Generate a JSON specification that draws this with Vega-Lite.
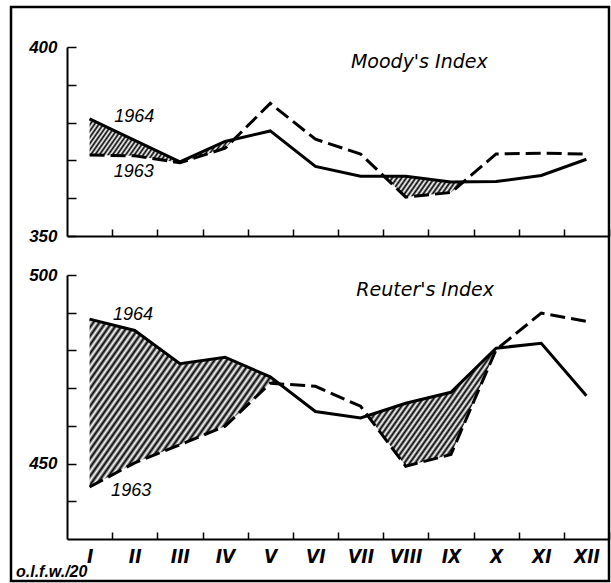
{
"$schema": "https://vega.github.io/schema/vega-lite/v6.json",
"width": 598, "height": 574,
"autosize": {"type": "none"},
"padding": {"left": 11, "top": 7, "right": 2, "bottom": 2},
"background": "white",
"config": {
  "view": {"stroke": "black", "strokeWidth": 2.5},
  "axis": {"domainColor": "black", "tickColor": "black", "labelColor": "black", "domainWidth": 2, "tickWidth": 1.5, "grid": false, "title": null, "labelFont": "Liberation Sans"}
},
"datasets": {
  "moody": [
    {"m":1,"v64":381.0,"v63":371.4},{"m":2,"v64":375.3,"v63":371.2},{"m":3,"v64":369.6,"v63":369.4},
    {"m":4,"v64":375.0,"v63":373.2},{"m":5,"v64":377.8,"v63":385.1},{"m":6,"v64":368.4,"v63":375.6},
    {"m":7,"v64":365.8,"v63":371.7},{"m":8,"v64":365.8,"v63":360.3},{"m":9,"v64":364.3,"v63":361.5},
    {"m":10,"v64":364.4,"v63":371.7},{"m":11,"v64":366.0,"v63":371.9},{"m":12,"v64":370.3,"v63":371.7}
  ],
  "moodyHatch": [
    {"seg":"a","m":1,"hi":381.0,"lo":371.4},{"seg":"a","m":2,"hi":375.3,"lo":371.2},{"seg":"a","m":3,"hi":369.6,"lo":369.4},
    {"seg":"a","m":4,"hi":375.0,"lo":373.2},{"seg":"a","m":4.2,"hi":375.6,"lo":375.6},
    {"seg":"b","m":7.52,"hi":365.8,"lo":365.8},{"seg":"b","m":8,"hi":365.8,"lo":360.3},{"seg":"b","m":9,"hi":364.3,"lo":361.5},
    {"seg":"b","m":9.27,"hi":364.3,"lo":364.3}
  ],
  "reuter": [
    {"m":1,"v64":488.3,"v63":443.8},{"m":2,"v64":485.3,"v63":450.2},{"m":3,"v64":476.5,"v63":455.0},
    {"m":4,"v64":478.2,"v63":459.9},{"m":5,"v64":473.0,"v63":471.3},{"m":6,"v64":463.8,"v63":470.5},
    {"m":7,"v64":462.1,"v63":465.2},{"m":8,"v64":466.0,"v63":449.3},{"m":9,"v64":468.9,"v63":452.4},
    {"m":10,"v64":480.6,"v63":480.2},{"m":11,"v64":481.9,"v63":489.9},{"m":12,"v64":468.0,"v63":487.7}
  ],
  "reuterHatch": [
    {"seg":"a","m":1,"hi":488.3,"lo":443.8},{"seg":"a","m":2,"hi":485.3,"lo":450.2},{"seg":"a","m":3,"hi":476.5,"lo":455.0},
    {"seg":"a","m":4,"hi":478.2,"lo":459.9},{"seg":"a","m":5,"hi":473.0,"lo":471.3},{"seg":"a","m":5.2,"hi":471.2,"lo":471.2},
    {"seg":"b","m":7.16,"hi":462.7,"lo":462.7},{"seg":"b","m":8,"hi":466.0,"lo":449.3},{"seg":"b","m":9,"hi":468.9,"lo":452.4},
    {"seg":"b","m":10,"hi":480.6,"lo":480.2},{"seg":"b","m":10.05,"hi":480.7,"lo":480.7}
  ]
},
"layer": [
  {
    "layer": [
      {
        "data": {"name": "moodyHatch"},
        "transform": [{"filter": "datum.seg == 'a'"}],
        "mark": {"type": "area", "stroke": null, "fill": {"gradient": "linear", "x1": 0, "y1": 0, "x2": 1.16, "y2": 0.2461, "stops": [
          {"offset":0,"color":"#000"},{"offset":0.0125,"color":"#fff"},{"offset":0.025,"color":"#000"},{"offset":0.0375,"color":"#fff"},{"offset":0.05,"color":"#000"},{"offset":0.0625,"color":"#fff"},{"offset":0.075,"color":"#000"},{"offset":0.0875,"color":"#fff"},{"offset":0.1,"color":"#000"},{"offset":0.1125,"color":"#fff"},{"offset":0.125,"color":"#000"},{"offset":0.1375,"color":"#fff"},{"offset":0.15,"color":"#000"},{"offset":0.1625,"color":"#fff"},{"offset":0.175,"color":"#000"},{"offset":0.1875,"color":"#fff"},{"offset":0.2,"color":"#000"},{"offset":0.2125,"color":"#fff"},{"offset":0.225,"color":"#000"},{"offset":0.2375,"color":"#fff"},{"offset":0.25,"color":"#000"},{"offset":0.2625,"color":"#fff"},{"offset":0.275,"color":"#000"},{"offset":0.2875,"color":"#fff"},{"offset":0.3,"color":"#000"},{"offset":0.3125,"color":"#fff"},{"offset":0.325,"color":"#000"},{"offset":0.3375,"color":"#fff"},{"offset":0.35,"color":"#000"},{"offset":0.3625,"color":"#fff"},{"offset":0.375,"color":"#000"},{"offset":0.3875,"color":"#fff"},{"offset":0.4,"color":"#000"},{"offset":0.4125,"color":"#fff"},{"offset":0.425,"color":"#000"},{"offset":0.4375,"color":"#fff"},{"offset":0.45,"color":"#000"},{"offset":0.4625,"color":"#fff"},{"offset":0.475,"color":"#000"},{"offset":0.4875,"color":"#fff"},{"offset":0.5,"color":"#000"},{"offset":0.5125,"color":"#fff"},{"offset":0.525,"color":"#000"},{"offset":0.5375,"color":"#fff"},{"offset":0.55,"color":"#000"},{"offset":0.5625,"color":"#fff"},{"offset":0.575,"color":"#000"},{"offset":0.5875,"color":"#fff"},{"offset":0.6,"color":"#000"},{"offset":0.6125,"color":"#fff"},{"offset":0.625,"color":"#000"},{"offset":0.6375,"color":"#fff"},{"offset":0.65,"color":"#000"},{"offset":0.6625,"color":"#fff"},{"offset":0.675,"color":"#000"},{"offset":0.6875,"color":"#fff"},{"offset":0.7,"color":"#000"},{"offset":0.7125,"color":"#fff"},{"offset":0.725,"color":"#000"},{"offset":0.7375,"color":"#fff"},{"offset":0.75,"color":"#000"},{"offset":0.7625,"color":"#fff"},{"offset":0.775,"color":"#000"},{"offset":0.7875,"color":"#fff"},{"offset":0.8,"color":"#000"},{"offset":0.8125,"color":"#fff"},{"offset":0.825,"color":"#000"},{"offset":0.8375,"color":"#fff"},{"offset":0.85,"color":"#000"},{"offset":0.8625,"color":"#fff"},{"offset":0.875,"color":"#000"},{"offset":0.8875,"color":"#fff"},{"offset":0.9,"color":"#000"},{"offset":0.9125,"color":"#fff"},{"offset":0.925,"color":"#000"},{"offset":0.9375,"color":"#fff"},{"offset":0.95,"color":"#000"},{"offset":0.9625,"color":"#fff"},{"offset":0.975,"color":"#000"},{"offset":0.9875,"color":"#fff"},{"offset":1,"color":"#000"}
        ]}},
        "encoding": {
          "x": {"field": "m", "type": "quantitative", "scale": {"domain": [0.5, 12.5], "range": [56, 598], "nice": false, "zero": false},
                "axis": {"orient": "bottom", "offset": -345, "values": [1.5,2.5,3.5,4.5,5.5,6.5,7.5,8.5,9.5,10.5,11.5,12.5], "tickSize": -7, "labels": false, "title": null}},
          "y": {"field": "hi", "type": "quantitative", "scale": {"domain": [350, 400], "range": [229, 40], "nice": false, "zero": false},
                "axis": {"orient": "left", "offset": -56, "values": [350,360,370,380,390,400], "tickSize": -9, "labelPadding": 19, "labelExpr": "datum.value % 50 == 0 ? datum.label : ''", "labelFontSize": 17, "labelFontStyle": "italic", "labelFontWeight": "bold", "labelFlush": false, "labelBound": false, "labelOverlap": false, "title": null}},
          "y2": {"field": "lo"}
        }
      },
      {
        "data": {"name": "moodyHatch"},
        "transform": [{"filter": "datum.seg == 'b'"}],
        "mark": {"type": "area", "stroke": null, "fill": {"gradient": "linear", "x1": 0, "y1": 0, "x2": 1.1454, "y2": 0.2111, "stops": [
          {"offset":0,"color":"#000"},{"offset":0.025,"color":"#fff"},{"offset":0.05,"color":"#000"},{"offset":0.075,"color":"#fff"},{"offset":0.1,"color":"#000"},{"offset":0.125,"color":"#fff"},{"offset":0.15,"color":"#000"},{"offset":0.175,"color":"#fff"},{"offset":0.2,"color":"#000"},{"offset":0.225,"color":"#fff"},{"offset":0.25,"color":"#000"},{"offset":0.275,"color":"#fff"},{"offset":0.3,"color":"#000"},{"offset":0.325,"color":"#fff"},{"offset":0.35,"color":"#000"},{"offset":0.375,"color":"#fff"},{"offset":0.4,"color":"#000"},{"offset":0.425,"color":"#fff"},{"offset":0.45,"color":"#000"},{"offset":0.475,"color":"#fff"},{"offset":0.5,"color":"#000"},{"offset":0.525,"color":"#fff"},{"offset":0.55,"color":"#000"},{"offset":0.575,"color":"#fff"},{"offset":0.6,"color":"#000"},{"offset":0.625,"color":"#fff"},{"offset":0.65,"color":"#000"},{"offset":0.675,"color":"#fff"},{"offset":0.7,"color":"#000"},{"offset":0.725,"color":"#fff"},{"offset":0.75,"color":"#000"},{"offset":0.775,"color":"#fff"},{"offset":0.8,"color":"#000"},{"offset":0.825,"color":"#fff"},{"offset":0.85,"color":"#000"},{"offset":0.875,"color":"#fff"},{"offset":0.9,"color":"#000"},{"offset":0.925,"color":"#fff"},{"offset":0.95,"color":"#000"},{"offset":0.975,"color":"#fff"},{"offset":1,"color":"#000"}
        ]}},
        "encoding": {
          "x": {"field": "m", "type": "quantitative"},
          "y": {"field": "hi", "type": "quantitative"},
          "y2": {"field": "lo"}
        }
      },
      {
        "data": {"name": "moody"},
        "mark": {"type": "line", "color": "black", "strokeWidth": 3, "strokeJoin": "miter"},
        "encoding": {"x": {"field": "m", "type": "quantitative"}, "y": {"field": "v64", "type": "quantitative"}}
      },
      {
        "data": {"name": "moody"},
        "mark": {"type": "line", "color": "black", "strokeWidth": 3, "strokeDash": [15, 6], "strokeCap": "butt", "strokeJoin": "miter"},
        "encoding": {"x": {"field": "m", "type": "quantitative"}, "y": {"field": "v63", "type": "quantitative"}}
      },
      {
        "data": {"values": [{}]},
        "mark": {"type": "text", "font": "Liberation Sans", "fontStyle": "italic", "fontSize": 18, "color": "black", "align": "center", "baseline": "middle"},
        "encoding": {"x": {"datum": 1.99}, "y": {"datum": 381.5}, "text": {"value": "1964"}}
      },
      {
        "data": {"values": [{}]},
        "mark": {"type": "text", "font": "Liberation Sans", "fontStyle": "italic", "fontSize": 18, "color": "black", "align": "center", "baseline": "middle"},
        "encoding": {"x": {"datum": 1.98}, "y": {"datum": 367.0}, "text": {"value": "1963"}}
      },
      {
        "data": {"values": [{}]},
        "mark": {"type": "text", "font": "DejaVu Sans", "fontStyle": "italic", "fontSize": 19, "color": "black", "align": "center", "baseline": "middle"},
        "encoding": {"x": {"datum": 8.3}, "y": {"datum": 396.1}, "text": {"value": "Moody's Index"}}
      }
    ]
  },
  {
    "layer": [
      {
        "data": {"name": "reuterHatch"},
        "transform": [{"filter": "datum.seg == 'a'"}],
        "mark": {"type": "area", "stroke": null, "fill": {"gradient": "linear", "x1": 0, "y1": 0, "x2": 1.17, "y2": 0.7262, "stops": [
          {"offset":0,"color":"#000"},{"offset":0.01,"color":"#fff"},{"offset":0.02,"color":"#000"},{"offset":0.03,"color":"#fff"},{"offset":0.04,"color":"#000"},{"offset":0.05,"color":"#fff"},{"offset":0.06,"color":"#000"},{"offset":0.07,"color":"#fff"},{"offset":0.08,"color":"#000"},{"offset":0.09,"color":"#fff"},
          {"offset":0.1,"color":"#000"},{"offset":0.11,"color":"#fff"},{"offset":0.12,"color":"#000"},{"offset":0.13,"color":"#fff"},{"offset":0.14,"color":"#000"},{"offset":0.15,"color":"#fff"},{"offset":0.16,"color":"#000"},{"offset":0.17,"color":"#fff"},{"offset":0.18,"color":"#000"},{"offset":0.19,"color":"#fff"},
          {"offset":0.2,"color":"#000"},{"offset":0.21,"color":"#fff"},{"offset":0.22,"color":"#000"},{"offset":0.23,"color":"#fff"},{"offset":0.24,"color":"#000"},{"offset":0.25,"color":"#fff"},{"offset":0.26,"color":"#000"},{"offset":0.27,"color":"#fff"},{"offset":0.28,"color":"#000"},{"offset":0.29,"color":"#fff"},
          {"offset":0.3,"color":"#000"},{"offset":0.31,"color":"#fff"},{"offset":0.32,"color":"#000"},{"offset":0.33,"color":"#fff"},{"offset":0.34,"color":"#000"},{"offset":0.35,"color":"#fff"},{"offset":0.36,"color":"#000"},{"offset":0.37,"color":"#fff"},{"offset":0.38,"color":"#000"},{"offset":0.39,"color":"#fff"},
          {"offset":0.4,"color":"#000"},{"offset":0.41,"color":"#fff"},{"offset":0.42,"color":"#000"},{"offset":0.43,"color":"#fff"},{"offset":0.44,"color":"#000"},{"offset":0.45,"color":"#fff"},{"offset":0.46,"color":"#000"},{"offset":0.47,"color":"#fff"},{"offset":0.48,"color":"#000"},{"offset":0.49,"color":"#fff"},
          {"offset":0.5,"color":"#000"},{"offset":0.51,"color":"#fff"},{"offset":0.52,"color":"#000"},{"offset":0.53,"color":"#fff"},{"offset":0.54,"color":"#000"},{"offset":0.55,"color":"#fff"},{"offset":0.56,"color":"#000"},{"offset":0.57,"color":"#fff"},{"offset":0.58,"color":"#000"},{"offset":0.59,"color":"#fff"},
          {"offset":0.6,"color":"#000"},{"offset":0.61,"color":"#fff"},{"offset":0.62,"color":"#000"},{"offset":0.63,"color":"#fff"},{"offset":0.64,"color":"#000"},{"offset":0.65,"color":"#fff"},{"offset":0.66,"color":"#000"},{"offset":0.67,"color":"#fff"},{"offset":0.68,"color":"#000"},{"offset":0.69,"color":"#fff"},
          {"offset":0.7,"color":"#000"},{"offset":0.71,"color":"#fff"},{"offset":0.72,"color":"#000"},{"offset":0.73,"color":"#fff"},{"offset":0.74,"color":"#000"},{"offset":0.75,"color":"#fff"},{"offset":0.76,"color":"#000"},{"offset":0.77,"color":"#fff"},{"offset":0.78,"color":"#000"},{"offset":0.79,"color":"#fff"},
          {"offset":0.8,"color":"#000"},{"offset":0.81,"color":"#fff"},{"offset":0.82,"color":"#000"},{"offset":0.83,"color":"#fff"},{"offset":0.84,"color":"#000"},{"offset":0.85,"color":"#fff"},{"offset":0.86,"color":"#000"},{"offset":0.87,"color":"#fff"},{"offset":0.88,"color":"#000"},{"offset":0.89,"color":"#fff"},
          {"offset":0.9,"color":"#000"},{"offset":0.91,"color":"#fff"},{"offset":0.92,"color":"#000"},{"offset":0.93,"color":"#fff"},{"offset":0.94,"color":"#000"},{"offset":0.95,"color":"#fff"},{"offset":0.96,"color":"#000"},{"offset":0.97,"color":"#fff"},{"offset":0.98,"color":"#000"},{"offset":0.99,"color":"#fff"},
          {"offset":1,"color":"#000"}
        ]}},
        "encoding": {
          "x": {"field": "m", "type": "quantitative", "scale": {"domain": [0.5, 12.5], "range": [56, 598], "nice": false, "zero": false},
                "axis": {"orient": "bottom", "offset": -42, "values": [1.5,2.5,3.5,4.5,5.5,6.5,7.5,8.5,9.5,10.5,11.5,12.5], "tickSize": -7, "labelPadding": 15, "labelOffset": -22.6,
                         "labelExpr": "['I','II','III','IV','V','VI','VII','VIII','IX','X','XI','XII'][round(datum.value - 1.5)]",
                         "labelFont": "DejaVu Sans Condensed", "labelFontSize": 19, "labelFontStyle": "italic", "labelFontWeight": "bold", "labelFlush": false, "labelOverlap": false, "labelBound": false, "title": null}},
          "y": {"field": "hi", "type": "quantitative", "scale": {"domain": [430, 500], "range": [532, 268], "nice": false, "zero": false},
                "axis": {"orient": "left", "offset": -56, "values": [440,450,460,470,480,490,500], "tickSize": -9, "labelPadding": 19, "labelExpr": "datum.value % 50 == 0 ? datum.label : ''", "labelFontSize": 17, "labelFontStyle": "italic", "labelFontWeight": "bold", "labelFlush": false, "labelBound": false, "labelOverlap": false, "title": null}},
          "y2": {"field": "lo"}
        }
      },
      {
        "data": {"name": "reuterHatch"},
        "transform": [{"filter": "datum.seg == 'b'"}],
        "mark": {"type": "area", "stroke": null, "fill": {"gradient": "linear", "x1": 0, "y1": 0, "x2": 1.1646, "y2": 0.7415, "stops": [
          {"offset":0,"color":"#000"},{"offset":0.0125,"color":"#fff"},{"offset":0.025,"color":"#000"},{"offset":0.0375,"color":"#fff"},{"offset":0.05,"color":"#000"},{"offset":0.0625,"color":"#fff"},{"offset":0.075,"color":"#000"},{"offset":0.0875,"color":"#fff"},{"offset":0.1,"color":"#000"},{"offset":0.1125,"color":"#fff"},{"offset":0.125,"color":"#000"},{"offset":0.1375,"color":"#fff"},{"offset":0.15,"color":"#000"},{"offset":0.1625,"color":"#fff"},{"offset":0.175,"color":"#000"},{"offset":0.1875,"color":"#fff"},{"offset":0.2,"color":"#000"},{"offset":0.2125,"color":"#fff"},{"offset":0.225,"color":"#000"},{"offset":0.2375,"color":"#fff"},{"offset":0.25,"color":"#000"},{"offset":0.2625,"color":"#fff"},{"offset":0.275,"color":"#000"},{"offset":0.2875,"color":"#fff"},{"offset":0.3,"color":"#000"},{"offset":0.3125,"color":"#fff"},{"offset":0.325,"color":"#000"},{"offset":0.3375,"color":"#fff"},{"offset":0.35,"color":"#000"},{"offset":0.3625,"color":"#fff"},{"offset":0.375,"color":"#000"},{"offset":0.3875,"color":"#fff"},{"offset":0.4,"color":"#000"},{"offset":0.4125,"color":"#fff"},{"offset":0.425,"color":"#000"},{"offset":0.4375,"color":"#fff"},{"offset":0.45,"color":"#000"},{"offset":0.4625,"color":"#fff"},{"offset":0.475,"color":"#000"},{"offset":0.4875,"color":"#fff"},{"offset":0.5,"color":"#000"},{"offset":0.5125,"color":"#fff"},{"offset":0.525,"color":"#000"},{"offset":0.5375,"color":"#fff"},{"offset":0.55,"color":"#000"},{"offset":0.5625,"color":"#fff"},{"offset":0.575,"color":"#000"},{"offset":0.5875,"color":"#fff"},{"offset":0.6,"color":"#000"},{"offset":0.6125,"color":"#fff"},{"offset":0.625,"color":"#000"},{"offset":0.6375,"color":"#fff"},{"offset":0.65,"color":"#000"},{"offset":0.6625,"color":"#fff"},{"offset":0.675,"color":"#000"},{"offset":0.6875,"color":"#fff"},{"offset":0.7,"color":"#000"},{"offset":0.7125,"color":"#fff"},{"offset":0.725,"color":"#000"},{"offset":0.7375,"color":"#fff"},{"offset":0.75,"color":"#000"},{"offset":0.7625,"color":"#fff"},{"offset":0.775,"color":"#000"},{"offset":0.7875,"color":"#fff"},{"offset":0.8,"color":"#000"},{"offset":0.8125,"color":"#fff"},{"offset":0.825,"color":"#000"},{"offset":0.8375,"color":"#fff"},{"offset":0.85,"color":"#000"},{"offset":0.8625,"color":"#fff"},{"offset":0.875,"color":"#000"},{"offset":0.8875,"color":"#fff"},{"offset":0.9,"color":"#000"},{"offset":0.9125,"color":"#fff"},{"offset":0.925,"color":"#000"},{"offset":0.9375,"color":"#fff"},{"offset":0.95,"color":"#000"},{"offset":0.9625,"color":"#fff"},{"offset":0.975,"color":"#000"},{"offset":0.9875,"color":"#fff"},{"offset":1,"color":"#000"}
        ]}},
        "encoding": {
          "x": {"field": "m", "type": "quantitative"},
          "y": {"field": "hi", "type": "quantitative"},
          "y2": {"field": "lo"}
        }
      },
      {
        "data": {"name": "reuter"},
        "mark": {"type": "line", "color": "black", "strokeWidth": 3, "strokeJoin": "miter"},
        "encoding": {"x": {"field": "m", "type": "quantitative"}, "y": {"field": "v64", "type": "quantitative"}}
      },
      {
        "data": {"name": "reuter"},
        "mark": {"type": "line", "color": "black", "strokeWidth": 3, "strokeDash": [15, 6], "strokeCap": "butt", "strokeJoin": "miter"},
        "encoding": {"x": {"field": "m", "type": "quantitative"}, "y": {"field": "v63", "type": "quantitative"}}
      },
      {
        "data": {"values": [{}]},
        "mark": {"type": "text", "font": "Liberation Sans", "fontStyle": "italic", "fontSize": 18, "color": "black", "align": "center", "baseline": "middle"},
        "encoding": {"x": {"datum": 1.96}, "y": {"datum": 489.4}, "text": {"value": "1964"}}
      },
      {
        "data": {"values": [{}]},
        "mark": {"type": "text", "font": "Liberation Sans", "fontStyle": "italic", "fontSize": 18, "color": "black", "align": "center", "baseline": "middle"},
        "encoding": {"x": {"datum": 1.92}, "y": {"datum": 442.6}, "text": {"value": "1963"}}
      },
      {
        "data": {"values": [{}]},
        "mark": {"type": "text", "font": "DejaVu Sans", "fontStyle": "italic", "fontSize": 19, "color": "black", "align": "center", "baseline": "middle"},
        "encoding": {"x": {"datum": 8.43}, "y": {"datum": 496}, "text": {"value": "Reuter's Index"}}
      },
      {
        "data": {"values": [{}]},
        "mark": {"type": "text", "font": "Liberation Sans", "fontStyle": "italic", "fontWeight": "bold", "fontSize": 16, "color": "black", "align": "left", "baseline": "alphabetic"},
        "encoding": {"x": {"datum": -0.63}, "y": {"datum": 419.8}, "text": {"value": "o.l.f.w./20"}}
      }
    ]
  }
],
"resolve": {"scale": {"y": "independent"}, "axis": {"x": "independent", "y": "independent"}}
}
